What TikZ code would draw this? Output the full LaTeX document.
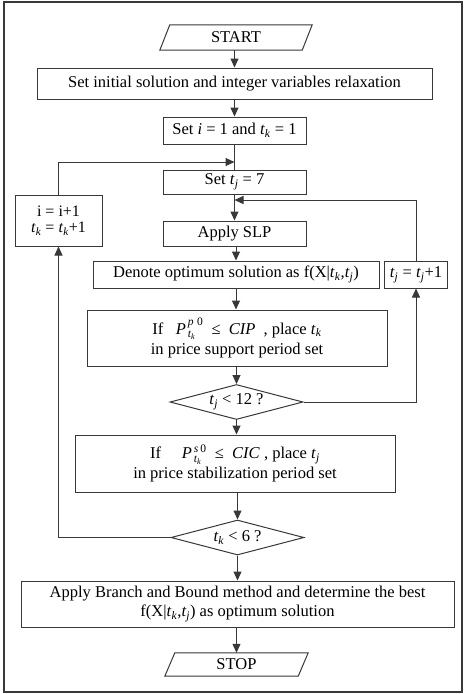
\documentclass[tikz,border=0pt]{standalone}
\usepackage{amsmath}
\usepackage{fontspec}
\setmainfont{Liberation Serif}
\usetikzlibrary{arrows.meta,shapes.geometric}
\definecolor{lc}{gray}{0.22}
\newcommand{\ti}[1]{\textit{#1}}
\newcommand{\tsub}[2]{\textit{#1}\textsubscript{\textit{#2}}}
\begin{document}
\begin{tikzpicture}[x=1pt,y=-1pt,
  every node/.style={font=\fontsize{16.5}{20}\selectfont, text=black},
  box/.style={draw=lc, line width=1pt, rectangle, inner sep=0pt, align=center},
  dia/.style={draw=lc, line width=1pt, diamond, aspect=3.8, inner sep=0pt, minimum width=133, minimum height=35},
  term/.style={inner sep=0pt, minimum width=133, minimum height=24},
  ln/.style={draw=lc, line width=1pt},
  arr/.style={ln, -{Triangle[length=9pt,width=8pt]}},
]
\useasboundingbox (0,0) rectangle (466,694);
\draw[lc, line width=1.3pt] (4,2) rectangle (462,692);

% nodes
\node[term, minimum width=142, minimum height=25] (start) at (236,37.5) {START};
\draw[ln] ([xshift=5]start.north west) -- ([xshift=5]start.north east) -- ([xshift=-5]start.south east) -- ([xshift=-5]start.south west) -- cycle;

\node[box, minimum width=395, minimum height=31] (b1) at (234.5,83.5) {Set initial solution and integer variables relaxation};
\node[box, minimum width=143, minimum height=27] (b2) at (234.5,130.5) {Set \ti{i} = 1 and \tsub{t}{k} = 1};
\node[box, minimum width=143, minimum height=24] (b3) at (234.5,182) {Set \tsub{t}{j} = 7};
\node[box, minimum width=143, minimum height=25] (b4) at (234.5,233.5) {Apply SLP};
\node[box, minimum width=286, minimum height=27] (b5) at (236,274.5) {Denote optimum solution as f(X|\tsub{t}{k},\tsub{t}{j})};
\node[box, minimum width=63, minimum height=27] (b6) at (416,274.5) {\tsub{t}{j} = \tsub{t}{j}+1};
\node[box, minimum width=87, minimum height=51, font=\fontsize{16}{16}\selectfont] (b7) at (58.5,220.5) {i = i+1\\\tsub{t}{k} = \tsub{t}{k}+1};
\node[box, minimum width=300, minimum height=56] (b8) at (237,338)
  {If~~ \ti{P}$^{\,\textit{p}\;\textrm{0}}_{\,\textit{t}_{\textit{k}}}$ ~≤~ \ti{CIP}~~, place \tsub{t}{k}\\in price support period set};
\node[dia] (d1) at (236.5,402) {\tsub{t}{j} < 12 ?};
\node[box, minimum width=320, minimum height=57] (b9) at (235,463.5)
  {If~~~~ \ti{P}$^{\,\textit{s}\,\textrm{0}}_{\,\textit{t}_{\textit{k}}}$ ~≤~ \ti{CIC}~, place \tsub{t}{j}\\in price stabilization period set};
\node[dia] (d2) at (237.5,537.5) {\tsub{t}{k} < 6 ?};
\node[box, minimum width=433, minimum height=46, font=\fontsize{16.5}{19}\selectfont] (b10) at (237.5,604)
  {Apply Branch and Bound method and determine the best\\f(X|\tsub{t}{k},\tsub{t}{j}) as optimum solution};
\node[term, minimum width=133, minimum height=23] (stop) at (236.5,664.5) {STOP};
\draw[ln] ([xshift=5]stop.north west) -- ([xshift=5]stop.north east) -- ([xshift=-5]stop.south east) -- ([xshift=-5]stop.south west) -- cycle;

\coordinate (j1) at (234.5,162);
\coordinate (j2) at (234.5,200);

% connectors
\draw[arr] (start.south -| b1.north) -- (b1.north);
\draw[arr] (b1.south) -- (b2.north);
\draw[ln] (b2.south) -- (b3.north);
\draw[arr] (b3.south) -- (b4.north);
\draw[arr] (b4.south -| b5.north) -- (b5.north);
\draw[arr] (b5.south) -- (b5.south |- b8.north);
\draw[arr] (b8.south -| d1.north) -- (d1.north);
\draw[arr] (d1.south) -- (d1.south |- b9.north);
\draw[arr] (b9.south -| d2.north) -- (d2.north);
\draw[arr] (d2.south) -- (d2.south |- b10.north);
\draw[arr] (b10.south -| stop.north) -- (stop.north);
\draw[arr] (d1.east) -| (b6.south);
\draw[arr] (b6.north) |- (j2);
\draw[arr] (d2.west) -| (b7.south);
\draw[arr] (b7.north) |- (j1);
\end{tikzpicture}
\end{document}
